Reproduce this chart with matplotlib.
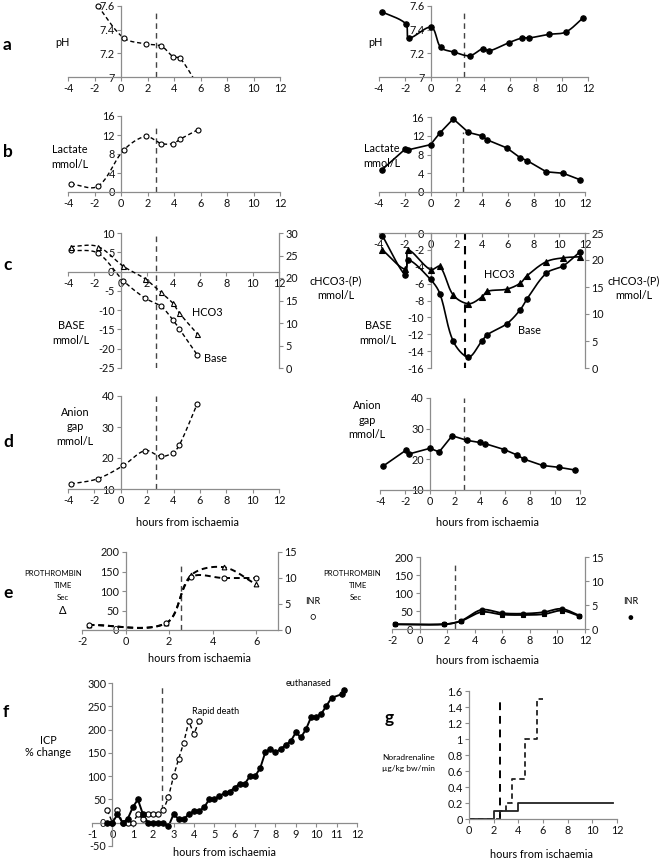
import numpy as np
import matplotlib
matplotlib.use("Agg")
import matplotlib.pyplot as plt
from matplotlib.ticker import FuncFormatter

plt.rcParams['font.family'] = ['Lato', 'DejaVu Sans']
plt.rcParams['font.size'] = 7.8
plt.rcParams['axes.unicode_minus'] = False

W, H = 660, 861
GRAY = '#8c8c8c'
DASH = (0, (3, 2))
VDASH = (0, (4, 3))
FS = 7.8

# ---- data ----
# left column: open circles, right column: filled circles
left_x = [-3.8, -1.75, 0.2, 1.85, 3.05, 3.95, 4.45, 5.8]
right_x = [-3.75, -1.95, -1.72, 0.0, 0.73, 1.77, 2.95, 3.97, 4.42, 5.93, 6.97, 7.5, 9.0, 10.3, 11.63]

ph_left = [7.60, 7.33, 7.28, 7.26, 7.17, 7.16, 6.93]          # no point at -3.8
ph_right = [7.55, 7.45, 7.33, 7.42, 7.25, 7.21, 7.18, 7.24, 7.22, 7.29, 7.33, 7.33, 7.36, 7.38, 7.50]

lactate_left = [1.7, 1.2, 8.8, 11.7, 10.2, 10.2, 11.1, 13.1]
lactate_right = [4.8, 9.2, 9.0, 10.1, 12.6, 15.6, 12.7, 12.0, 11.1, 9.4, 7.3, 6.7, 4.3, 4.0, 2.6]

base_left = [5.5, 4.8, -2.4, -6.9, -9.0, -12.5, -14.9, -21.6]
hco3_left = [27.0, 27.0, 22.6, 19.8, 16.8, 14.4, 12.2, 7.6]
base_right = [-0.3, -5.0, -3.2, -5.5, -7.2, -12.85, -14.7, -12.85, -12.05, -10.75, -9.1, -7.8, -4.75, -3.9, -2.2]
hco3_right = [21.9, 18.3, 21.8, 18.2, 18.8, 13.5, 11.9, 13.1, 14.2, 14.6, 15.7, 17.1, 19.7, 20.4, 20.6]

anion_left = [11.6, 13.3, 17.6, 22.4, 20.5, 21.7, 24.2, 37.5]
anion_right = [17.8, 22.9, 21.7, 23.6, 22.4, 27.7, 26.2, 25.5, 25.1, 23.2, 21.4, 20.1, 18.0, 17.4, 16.5]

pt_left_x = [-1.7, 1.85, 3.0, 4.5, 6.0]
pt_left = [13, 17, 140, 161, 117]
inr_left = [0.95, 1.3, 10.1, 10.0, 10.0]
pt_right_x = [-1.8, 1.8, 3.0, 4.5, 6.0, 7.5, 9.0, 10.3, 11.6]
pt_right = [13, 13, 22, 47, 40, 39, 41, 51, 36]
inr_right = [1.0, 1.0, 1.7, 4.0, 3.3, 3.2, 3.5, 4.2, 2.8]

icp_x = [-0.25, 0, 0.25, 0.5, 0.75, 1.0, 1.25, 1.5, 1.75, 2.0, 2.25, 2.5, 2.75, 3.0,
         3.25, 3.5, 3.75, 4.0, 4.25, 4.5, 4.75, 5.0, 5.25, 5.5, 5.75, 6.0, 6.25, 6.5,
         6.75, 7.0, 7.25, 7.5, 7.75, 8.0, 8.25, 8.5, 8.75, 9.0, 9.25, 9.5, 9.75, 10.0,
         10.25, 10.5, 10.75, 11.25, 11.35]
icp_survivor = [0, 0, 18, 0, 8, 33, 50, 18, 0, 0, 0, 0, -8, 18,
                8, 8, 18, 25, 25, 33, 50, 50, 58, 63, 67, 75, 84, 84,
                100, 100, 117, 151, 159, 151, 158, 167, 175, 194, 183, 201, 227, 227,
                234, 251, 268, 276, 285]
icp_rapid_x = [-0.25, 0, 0.25, 0.5, 0.75, 1.0, 1.25, 1.5, 1.75, 2.0, 2.25, 2.5, 2.75,
               3.0, 3.25, 3.5, 3.75, 4.0, 4.25]
icp_rapid = [27, 0, 27, 0, 0, 0, 18, 8, 18, 18, 18, 27, 55, 100, 137, 172, 218, 190, 218]

nor_solid_x = [0, 2, 4, 11.7]
nor_solid = [0, 0.1, 0.2, 0.2]
nor_dash_x = [0, 2.5, 3, 3.5, 4.5, 5.5, 6]
nor_dash = [0, 0.1, 0.2, 0.5, 1.0, 1.5, 1.5]

fig = plt.figure(figsize=(W / 100, H / 100), dpi=100)


def box(x0, x1, y0, y1):
    # pixel box of the plotting area (x0,x1 left/right; y0 top, y1 bottom)
    return fig.add_axes([x0 / W, 1 - y1 / H, (x1 - x0) / W, (y1 - y0) / H])


fmt = FuncFormatter(lambda v, p: f'{v:g}')


def style(ax, xlim, ylim, xticks, yticks, ycross=0, xcross=None):
    ax.set_xlim(xlim)
    ax.set_ylim(ylim)
    ax.set_xticks(xticks)
    ax.set_yticks(yticks)
    ax.patch.set_visible(False)
    ax.spines['top'].set_visible(False)
    ax.spines['right'].set_visible(False)
    ax.spines['left'].set_position(('data', ycross))
    if xcross is not None:
        ax.spines['bottom'].set_position(('data', xcross))
    for s in ['left', 'bottom']:
        ax.spines[s].set_color(GRAY)
        ax.spines[s].set_linewidth(0.9)
    ax.tick_params(direction='out', length=3, width=0.8, color=GRAY,
                   labelsize=FS, pad=1.5, labelcolor='#111111')
    ax.xaxis.set_major_formatter(fmt)
    ax.yaxis.set_major_formatter(fmt)


def twin(ax, ylim, yticks):
    t = ax.twinx()
    t.set_ylim(ylim)
    t.set_yticks(yticks)
    t.yaxis.set_major_formatter(fmt)
    for s in ['left', 'top', 'bottom']:
        t.spines[s].set_visible(False)
    t.spines['right'].set_color(GRAY)
    t.spines['right'].set_linewidth(0.9)
    t.tick_params(direction='out', length=3, width=0.8, color=GRAY,
                  labelsize=FS, pad=1.5, labelcolor='#111111')
    return t


def smooth(ax, x, y, n=24):
    # excel-like smoothed line: bezier through points, built in screen space
    pts = ax.transData.transform(np.column_stack([x, y]))
    out = [pts[0]]
    m = len(pts)
    for i in range(m - 1):
        p0, p1, p2, p3 = pts[max(i - 1, 0)], pts[i], pts[i + 1], pts[min(i + 2, m - 1)]
        d = np.hypot(*(p2 - p1))
        l1 = np.hypot(*(p1 - p0)) + d
        l2 = d + np.hypot(*(p3 - p2))
        c1 = p1 + (p2 - p0) * d / l1 / 3 if l1 > 0 else p1
        c2 = p2 - (p3 - p1) * d / l2 / 3 if l2 > 0 else p2
        t = np.linspace(0, 1, n)[1:, None]
        out.extend((1 - t) ** 3 * p1 + 3 * (1 - t) ** 2 * t * c1 + 3 * (1 - t) * t ** 2 * c2 + t ** 3 * p2)
    return ax.transData.inverted().transform(np.array(out)).T


def line(ax, x, y, ls='-', lw=1.2, smooth_it=True):
    if smooth_it:
        x, y = smooth(ax, x, y)
    ax.plot(x, y, color='black', ls=ls, lw=lw, zorder=2)


def marks(ax, x, y, marker='o', filled=True, ms=3.9):
    ax.plot(x, y, ls='none', marker=marker, mfc='black' if filled else 'white',
            mec='black', mew=0.8, ms=ms, clip_on=False, zorder=3)


def vline(ax, x, y0, y1, lw=1.0, color='#444444'):
    ax.plot([x, x], [y0, y1], color=color, ls=VDASH, lw=lw, zorder=1)


def txt(x, y, s, size=FS, ha='center', **kw):
    fig.text(x / W, 1 - y / H, s, ha=ha, va='center', fontsize=size, **kw)


xt16 = list(range(-4, 13, 2))

# ---- a: pH ----
ax = box(68, 280, 6, 77)
style(ax, (-4, 12), (7, 7.6), xt16, [7, 7.2, 7.4, 7.6])
line(ax, left_x[1:], ph_left, ls=DASH, lw=1.0)
marks(ax, left_x[1:-1], ph_left[:-1], filled=False, ms=3.6)
vline(ax, 2.65, 7.0, 7.55)

ax = box(379, 588, 6, 77)
style(ax, (-4, 12), (7, 7.6), xt16, [7, 7.2, 7.4, 7.6])
line(ax, right_x, ph_right)
marks(ax, right_x, ph_right)
vline(ax, 2.5, 7.0, 7.55)

# ---- b: lactate ----
ax = box(68, 280, 116, 192)
style(ax, (-4, 12), (0, 16), xt16, [0, 4, 8, 12, 16])
line(ax, left_x, lactate_left, ls=DASH, lw=1.0)
marks(ax, left_x, lactate_left, filled=False, ms=3.6)
vline(ax, 2.65, 0, 14)

ax = box(379, 585, 117, 192)
style(ax, (-4, 12), (0, 16), xt16, [0, 4, 8, 12, 16])
line(ax, right_x, lactate_right, smooth_it=False)
marks(ax, right_x, lactate_right)
vline(ax, 2.5, 0, 12.8)

# ---- c: base excess / HCO3 ----
ax = box(68, 279, 233, 368)
style(ax, (-4, 12), (-25, 10), xt16, list(range(-25, 11, 5)), xcross=0)
t = twin(ax, (0, 30), list(range(0, 31, 5)))
line(ax, left_x, base_left, ls=DASH, lw=1.0)
marks(ax, left_x, base_left, filled=False, ms=3.6)
line(t, left_x, hco3_left, ls=DASH, lw=1.0)
marks(t, left_x, hco3_left, marker='^', filled=False, ms=3.6)
vline(ax, 2.65, -25, 10)

ax = box(379, 585, 233, 368)
style(ax, (-4, 12), (-16, 0), xt16, list(range(-16, 1, 2)), xcross=0)
t = twin(ax, (0, 25), list(range(0, 26, 5)))
line(ax, right_x, base_right)
marks(ax, right_x, base_right)
line(t, right_x, hco3_right)
marks(t, right_x, hco3_right, marker='^', ms=3.8)
vline(ax, 2.67, -16.3, 0, lw=1.5, color='black')

# ---- d: anion gap ----
ax = box(68, 279, 396, 489)
style(ax, (-4, 12), (10, 40), xt16, [10, 20, 30, 40])
line(ax, left_x, anion_left, ls=DASH, lw=1.0)
marks(ax, left_x, anion_left, filled=False, ms=3.6)
vline(ax, 2.65, 10, 40)

ax = box(380, 580, 398, 490)
style(ax, (-4, 12), (10, 40), xt16, [10, 20, 30, 40])
line(ax, right_x, anion_right, smooth_it=False)
marks(ax, right_x, anion_right)
vline(ax, 2.73, 10, 40)

# ---- e: prothrombin time / INR ----
ax = box(82, 278, 552, 630)
style(ax, (-2, 7), (0, 200), [-2, 0, 2, 4, 6], [0, 50, 100, 150, 200])
t = twin(ax, (0, 15), [0, 5, 10, 15])
line(ax, pt_left_x, pt_left, ls=DASH, lw=1.4)
marks(ax, pt_left_x, pt_left, marker='^', filled=False, ms=3.4)
line(t, pt_left_x, inr_left, ls=DASH, lw=1.4)
marks(t, pt_left_x, inr_left, filled=False, ms=3.6)
vline(ax, 2.55, 0, 175)

ax = box(392, 585, 557, 629)
style(ax, (-2, 12), (0, 200), list(range(-2, 13, 2)), [0, 50, 100, 150, 200])
t = twin(ax, (0, 15), [0, 5, 10, 15])
line(ax, pt_right_x, pt_right, lw=1.3)
marks(ax, pt_right_x, pt_right, marker='s', ms=3.1)
line(t, pt_right_x, inr_right, lw=1.3)
marks(t, pt_right_x, inr_right, ms=3.5)
vline(ax, 2.6, 0, 190)

# ---- f: ICP ----
ax = box(92, 357, 683, 846)
style(ax, (-1, 12), (-50, 300), list(range(-1, 13)), list(range(-50, 301, 50)), xcross=0)
ax.plot(icp_rapid_x, icp_rapid, color='black', ls=DASH, lw=1.0, zorder=2)
marks(ax, icp_rapid_x, icp_rapid, filled=False, ms=3.8)
ax.plot(icp_x, icp_survivor, color='black', lw=1.4, zorder=2)
marks(ax, icp_x, icp_survivor, ms=3.9)
vline(ax, 2.43, 27, 297)

# ---- g: noradrenaline ----
ax = box(469, 617, 691, 819)
style(ax, (0, 12), (0, 1.6), list(range(0, 13, 2)), [0, 0.2, 0.4, 0.6, 0.8, 1, 1.2, 1.4, 1.6])
ax.step(nor_solid_x, nor_solid, where='post', color='#222222', lw=1.3)
ax.step(nor_dash_x, nor_dash, where='post', color='#222222', lw=1.3, ls=DASH)
vline(ax, 2.5, 0, 1.5, lw=1.4, color='black')

# ---- panel letters ----
for s, (x, y) in zip('abcdef', [(3, 45), (3, 152), (3, 265), (3, 442), (3, 593), (3, 712)]):
    txt(x, y, s, size=12.5, ha='left', fontweight='bold')
txt(385, 718, 'g', size=12.5, ha='left', fontweight='bold')

# ---- axis texts ----
txt(62, 43, 'pH')
txt(375, 43, 'pH')
txt(70, 157, 'Lactate\nmmol/L', linespacing=1.35)
txt(382, 156, 'Lactate\nmmol/L', linespacing=1.35)
txt(71, 333, 'BASE\nmmol/L', linespacing=1.35)
txt(378, 333, 'BASE\nmmol/L', linespacing=1.35)
txt(336, 288, 'cHCO3-(P)\nmmol/L', linespacing=1.35)
txt(634, 288, 'cHCO3-(P)\nmmol/L', linespacing=1.35)
txt(207, 313, 'HCO3')
txt(215, 358, 'Base')
txt(499, 274, 'HCO3')
txt(529, 330, 'Base')
txt(75, 427, 'Anion\ngap\nmmol/L', linespacing=1.35)
txt(367, 420, 'Anion\ngap\nmmol/L', linespacing=1.35)
txt(188, 522, 'hours from ischaemia')
txt(488, 522, 'hours from ischaemia')

txt(53, 574, 'PROTHROMBIN', size=5.6)
txt(63, 586, 'TIME', size=5.6)
txt(63, 597, 'Sec', size=5.6)
txt(63, 611, 'Δ', size=8)
txt(313, 602, 'INR', size=6.5)
txt(313, 617, '○', size=7)
txt(352, 574, 'PROTHROMBIN', size=5.6)
txt(358, 586, 'TIME', size=5.6)
txt(356, 598, 'Sec', size=5.6)
txt(631, 601, 'INR', size=6.5)
txt(630, 618, '●', size=7)
txt(200, 658, 'hours from ischaemia')
txt(488, 660, 'hours from ischaemia')

txt(48, 740, 'ICP')
txt(48, 753, '% change')
txt(192, 711, 'Rapid death', size=6.5, ha='left')
txt(286, 683, 'euthanased', size=6.5, ha='left')
txt(225, 853, 'hours from ischaemia')

txt(435, 758, 'Noradrenaline', size=6, ha='right')
txt(435, 769, 'µg/kg bw/min', size=6, ha='right')
txt(541, 855, 'hours from ischaemia')

fig.savefig('out.png', dpi=100)
